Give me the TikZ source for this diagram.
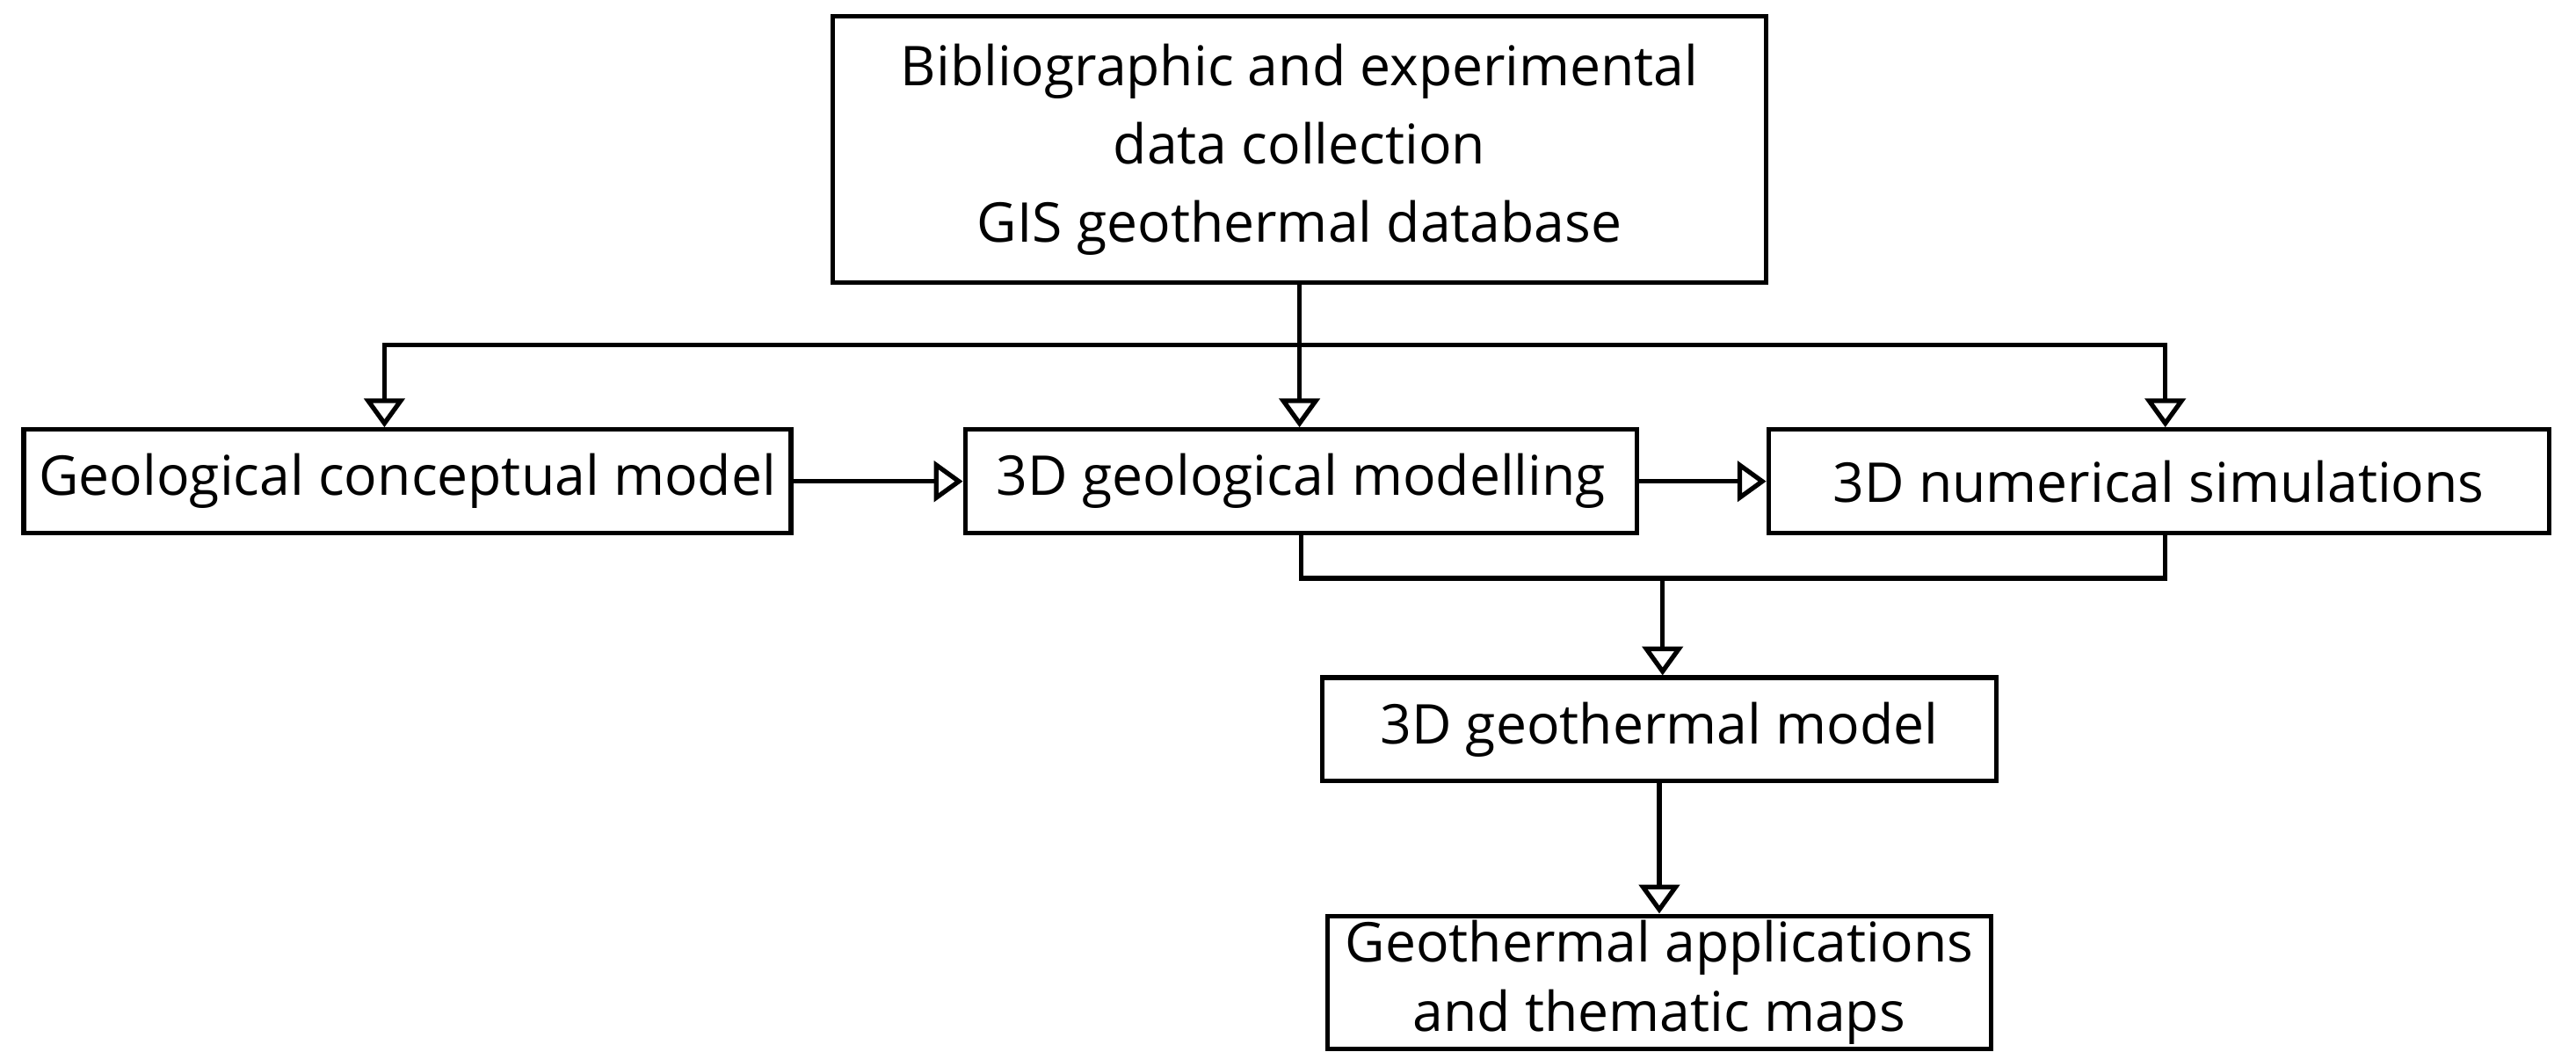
\documentclass[tikz,border=0pt]{standalone}
\usepackage{fontspec}
\setmainfont{Open Sans}
\usetikzlibrary{arrows.meta,positioning,calc}

\begin{document}
\begin{tikzpicture}[
  box/.style={draw, thick, align=center, inner sep=0pt, font=\fontsize{9.5}{13.5}\selectfont},
  arr/.style={-{Triangle[open, length=5pt, width=7pt]}, thick},
  ln/.style={thick}
]
  \useasboundingbox (0,0) rectangle (15.68,6.40);
  % boxes
  \node[box, minimum width=5.68cm, minimum height=1.62cm] (data) at (7.91,5.49)
    {Bibliographic and experimental\\data collection\\GIS geothermal database};
  \node[box, minimum width=4.67cm, minimum height=0.63cm] (concept) at (2.48,3.47)
    {Geological conceptual model};
  \node[box, minimum width=4.09cm, minimum height=0.63cm] (geomod) at (7.92,3.47)
    {3D geological modelling};
  \node[box, minimum width=4.75cm, minimum height=0.63cm] (numsim) at (13.14,3.47)
    {3D numerical simulations};
  \node[box, minimum width=4.10cm, minimum height=0.63cm] (thermod) at (10.10,1.96)
    {3D geothermal model};
  \node[box, minimum width=4.04cm, minimum height=0.81cm,
    font=\fontsize{9.5}{12}\selectfont] (appl) at (10.10,0.42)
    {Geothermal applications\\and thematic maps};

  % distribution from the database
  \coordinate (split) at (7.91,4.30);
  \draw[ln] (data.south) -- (split);
  \draw[arr] (split) -| ([xshift=-0.14cm]concept.north);
  \draw[arr] (split) -- (geomod.north -| split);
  \draw[arr] (split) -| ([xshift=0.04cm]numsim.north);

  % chain
  \draw[arr] (concept) -- (geomod);
  \draw[arr] (geomod) -- (numsim);

  % merge into geothermal model
  \coordinate (merge) at (10.12,2.88);
  \draw[ln] (geomod.south) |- (merge) -| ([xshift=0.04cm]numsim.south);
  \draw[arr] (merge) -- (thermod.north -| merge);
  \draw[arr] (thermod) -- (appl);
\end{tikzpicture}
\end{document}
